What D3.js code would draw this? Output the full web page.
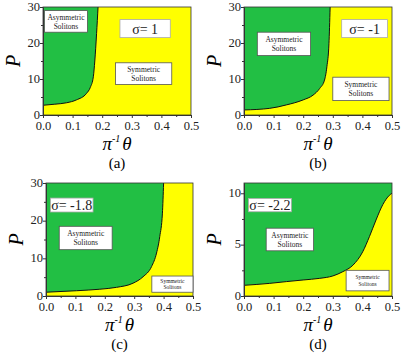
<!DOCTYPE html>
<html>
<head>
<meta charset="utf-8">
<script src="https://cdn.jsdelivr.net/npm/d3@7"></script>
<style>
body { margin:0; background:#fff; }
svg text { font-family: "Liberation Serif", "Times New Roman", "DejaVu Serif", serif; }
</style>
</head>
<body>
<script>
// boundary curves (theta/pi, P)
let thetaA = [0, 0.04, 0.08, 0.113, 0.147, 0.16, 0.17, 0.175, 0.181, 0.186];
let pA     = [2.7, 3.0, 3.4, 4.2, 6.0, 7.7, 10.6, 15, 22.6, 30];

let thetaB = [0, 0.087, 0.143, 0.2, 0.233, 0.256, 0.272, 0.28, 0.287, 0.291];
let pB     = [1.4, 1.85, 2.8, 4.2, 5.5, 7.4, 9.7, 13.4, 19.8, 30];

let thetaC = [0, 0.104, 0.183, 0.24, 0.296, 0.33, 0.359, 0.376, 0.387, 0.396, 0.4];
let pC     = [1.0, 1.4, 1.8, 2.3, 3.4, 5.1, 7.8, 11.4, 15.8, 22, 30];

let thetaD = [0, 0.087, 0.143, 0.2, 0.256, 0.3, 0.334, 0.368, 0.401, 0.424, 0.446, 0.469, 0.491, 0.5];
let pD     = [1.04, 1.23, 1.4, 1.56, 1.72, 1.95, 2.37, 3.0, 4.3, 5.8, 7.4, 8.9, 9.8, 10.0];

let sigmas = ["σ=  1", "σ= -1", "σ= -1.8", "σ= -2.2"];
let letters = ["(a)", "(b)", "(c)", "(d)"];
let xTicks = [0, 0.1, 0.2, 0.3, 0.4, 0.5];

let green = "#22bf44", yellow = "#ffff00";
let serif = "'Liberation Serif', 'Times New Roman', serif";

let svg = d3.select("body").append("svg").attr("width", 406).attr("height", 361)
  .attr("font-family", serif);

let panels = [
  {th: thetaA, p: pA, ymax: 30, yt: [0,10,20,30], ym: [5,15,25], box: [43,191,7,115],
   sig: [0.26, 26.5, 0.43, 21.5], asym: [0.005, 29, 0.15, 23], sym: [0.245, 14.5, 0.435, 8.5], small: false},
  {th: thetaB, p: pB, ymax: 30, yt: [0,10,20,30], ym: [5,15,25], box: [244,392,7,115],
   sig: [0.33, 26.5, 0.485, 21.5], asym: [0.045, 23, 0.225, 16.5], sym: [0.3, 10.5, 0.49, 4], small: false},
  {th: thetaC, p: pC, ymax: 30, yt: [0,10,20,30], ym: [5,15,25], box: [46,193,183,296],
   sig: [0.015, 26, 0.16, 22.3], asym: [0.045, 18.5, 0.225, 12.3], sym: [0.36, 5.3, 0.5, 1], small: true},
  {th: thetaD, p: pD, ymax: 11, yt: [0,5,10], ym: [2.5,7.5], box: [244,392,183,296],
   sig: [0.015, 9.5, 0.16, 8.2], asym: [0.075, 6.6, 0.235, 4.4], sym: [0.345, 2.5, 0.49, 0.5], small: true}
];

panels.forEach((pn, k) => {
  let [x0, x1, y0, y1] = pn.box;
  let xScale = d3.scaleLinear().domain([0, 0.5]).range([x0, x1]);
  let yScale = d3.scaleLinear().domain([0, pn.ymax]).range([y1, y0]);
  let g = svg.append("g");
  let pts = pn.th.map((t, i) => [t, pn.p[i]]);

  g.append("rect").attr("x", x0).attr("y", y0).attr("width", x1 - x0).attr("height", y1 - y0)
    .attr("fill", yellow);

  let area = d3.area().x(d => xScale(d[0])).y0(yScale(pn.ymax)).y1(d => yScale(d[1]))
    .curve(d3.curveMonotoneX);
  g.append("path").datum(pts).attr("d", area).attr("fill", green);

  let line = d3.line().x(d => xScale(d[0])).y(d => yScale(d[1])).curve(d3.curveMonotoneX);
  g.append("path").datum(pts)
    .attr("d", line).attr("fill", "none").attr("stroke", "#111").attr("stroke-width", 1);

  g.append("rect").attr("x", x0).attr("y", y0).attr("width", x1 - x0).attr("height", y1 - y0)
    .attr("fill", "none").attr("stroke", "#333").attr("stroke-width", 0.8);

  // axes
  let xAxis = d3.axisBottom(xScale).tickValues(xTicks).tickFormat(d3.format(".1f")).tickSize(3).tickSizeOuter(0);
  let gx = g.append("g").attr("transform", "translate(0," + y1 + ")").call(xAxis)
    .attr("font-family", serif);
  gx.selectAll("line").attr("stroke", "#333");
  gx.select(".domain").attr("stroke", "#333");
  gx.selectAll("text").attr("font-size", 12.5).attr("y", 5).attr("dy", "0.8em").attr("fill", "#222");
  g.append("g").attr("transform", "translate(0," + y1 + ")")
    .call(d3.axisBottom(xScale).tickValues([0.05,0.15,0.25,0.35,0.45]).tickSize(2).tickFormat(""))
    .call(s => s.select(".domain").remove()).selectAll("line").attr("stroke", "#333");

  let yAxis = d3.axisLeft(yScale).tickValues(pn.yt).tickFormat(d3.format("d")).tickSize(3).tickSizeOuter(0);
  let gy = g.append("g").attr("transform", "translate(" + x0 + ",0)").call(yAxis)
    .attr("font-family", serif);
  gy.selectAll("line").attr("stroke", "#333");
  gy.select(".domain").attr("stroke", "#333");
  gy.selectAll("text").attr("font-size", 12.5).attr("fill", "#222").attr("x", -3).attr("dy", "0.25em");
  g.append("g").attr("transform", "translate(" + x0 + ",0)")
    .call(d3.axisLeft(yScale).tickValues(pn.ym).tickSize(2).tickFormat(""))
    .call(s => s.select(".domain").remove()).selectAll("line").attr("stroke", "#333");

  // axis titles
  let cx = (x0 + x1) / 2;
  g.append("text").attr("transform", "translate(" + (x0 - 23) + "," + ((y0 + y1) / 2) + ") rotate(-90)")
    .attr("text-anchor", "middle").attr("font-size", 20).attr("font-style", "italic").text("P");
  let xt = g.append("text").attr("x", cx).attr("y", y1 + 35).attr("text-anchor", "middle")
    .attr("font-size", 19).attr("font-style", "italic");
  xt.append("tspan").text("π");
  xt.append("tspan").attr("font-size", 10).attr("dy", -8).text("-1");
  xt.append("tspan").attr("dy", 8).attr("dx", 2).text("θ");
  g.append("text").attr("x", cx).attr("y", y1 + 53).attr("text-anchor", "middle")
    .attr("font-size", 15).text(letters[k]);

  // annotation boxes
  function box(b, lines, fs, stroke) {
    let bx = xScale(b[0]), by = yScale(b[1]), bw = xScale(b[2]) - bx, bh = yScale(b[3]) - by;
    g.append("rect").attr("x", bx).attr("y", by).attr("width", bw).attr("height", bh)
      .attr("fill", "#fff").attr("stroke", stroke).attr("stroke-width", 0.8);
    let lh = fs * 1.2;
    lines.forEach((s, i) => {
      g.append("text").attr("x", bx + bw / 2)
        .attr("y", by + bh / 2 + (i - (lines.length - 1) / 2) * lh)
        .attr("dy", "0.35em").attr("text-anchor", "middle").attr("font-size", fs).attr("fill", "#222").text(s);
    });
  }
  box(pn.sig, [sigmas[k]], 14, "#aaa");
  box(pn.asym, ["Asymmetric", "Solitons"], 7.5, "#555");
  box(pn.sym, ["Symmetric", "Solitons"], pn.small ? 5.5 : 7.5, "#555");
});
</script>
</body>
</html>
